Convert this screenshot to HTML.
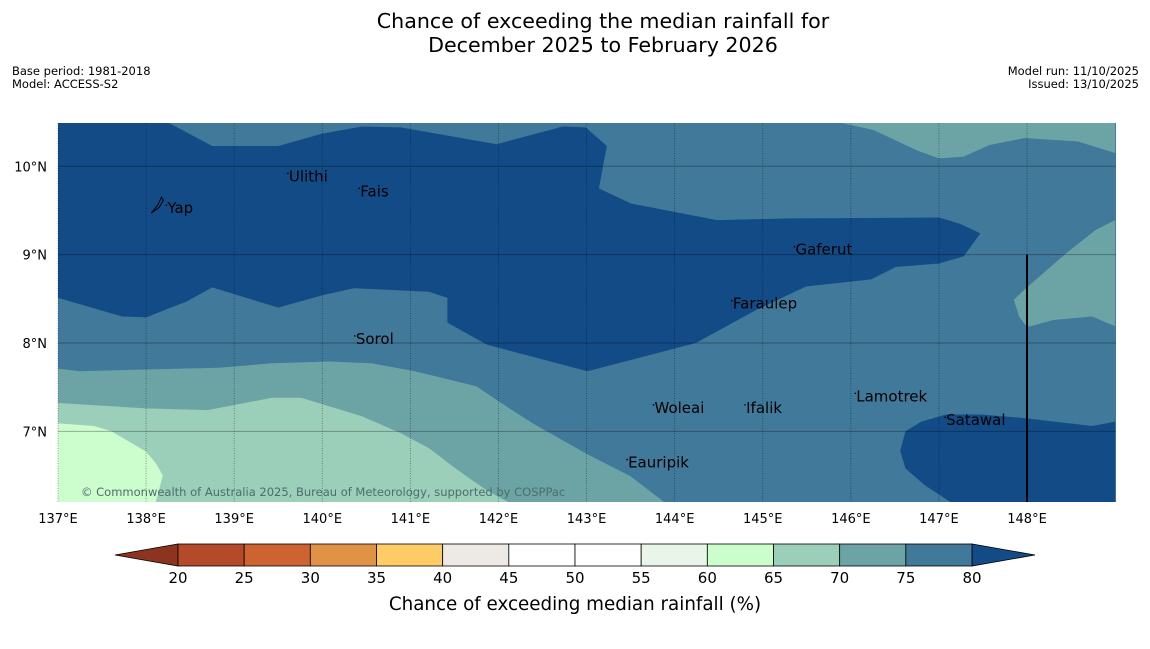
<!DOCTYPE html>
<html><head><meta charset="utf-8"><style>
body{margin:0;background:#fff;width:1150px;height:644px;overflow:hidden;font-family:"Liberation Sans","DejaVu Sans",sans-serif}
svg text{font-family:"DejaVu Sans","Liberation Sans",sans-serif}
</style></head><body>
<svg id="chart" width="1150" height="644" xmlns="http://www.w3.org/2000/svg">
<text x="603" y="28" font-size="20.6" text-anchor="middle">Chance of exceeding the median rainfall for</text>
<text x="603" y="52" font-size="20.6" text-anchor="middle">December 2025 to February 2026</text>
<text x="12" y="75" font-size="11.5">Base period: 1981-2018</text>
<text x="12" y="88" font-size="11.5">Model: ACCESS-S2</text>
<text x="1139" y="75" font-size="11.5" text-anchor="end">Model run: 11/10/2025</text>
<text x="1139" y="88" font-size="11.5" text-anchor="end">Issued: 13/10/2025</text>
<g id="map"></g>
<g id="cbar"></g>
</svg>
<script>
const NS="http://www.w3.org/2000/svg";
const lonTicks=[137,138,139,140,141,142,143,144,145,146,147,148];
const latTicks=[10,9,8,7];
const cbBounds=[20,25,30,35,40,45,50,55,60,65,70,75,80];
const cbColors=["#b34b29","#cc6330","#e09245","#fdcc66","#ede9e4","#ffffff","#ffffff","#e9f5e9","#ccfdcc","#9bcfb9","#6ca4a6","#41799a"];
const cbUnder="#8d3420", cbOver="#134b87";
const c60="#ccfdcc",c65="#9bcfb9",c70="#6ca4a6",c75="#41799a",c80="#134b87";
const darkNorth=[[137,10.49],[138.26,10.49],[138.75,10.23],[139.5,10.23],[140,10.37],[140.45,10.45],[140.89,10.44],[141.98,10.25],[142.73,10.45],[142.99,10.44],[143.23,10.23],[143.14,9.75],[143.5,9.58],[144.48,9.39],[145.3,9.41],[147,9.42],[147.24,9.35],[147.47,9.24],[147.28,8.98],[147,8.9],[146.51,8.86],[146.23,8.72],[145.49,8.64],[144.92,8.37],[144.24,8.0],[143.01,7.68],[141.87,7.98],[141.42,8.23],[141.42,8.51],[141.21,8.58],[140.36,8.62],[140,8.54],[139.5,8.4],[138.75,8.63],[138.46,8.47],[138,8.29],[137.73,8.3],[137,8.51]];
const darkSE=[[149,7.11],[148.74,7.06],[147.97,7.15],[147.48,7.19],[147.08,7.19],[146.8,7.11],[146.62,7.0],[146.56,6.78],[146.62,6.58],[146.84,6.39],[147.13,6.2],[149,6.2]];
const lightNE=[[145.9,10.49],[146.26,10.41],[146.75,10.18],[147,10.09],[147.28,10.11],[147.57,10.24],[147.97,10.32],[148.58,10.28],[149,10.15],[149,10.49]];
const lightE=[[149,9.39],[148.78,9.28],[148.45,9.02],[148.01,8.64],[147.85,8.49],[147.91,8.3],[148,8.18],[148.3,8.26],[148.74,8.3],[149,8.19]];
const band70=[[137,7.71],[137.24,7.68],[138,7.7],[138.83,7.72],[139.43,7.77],[140.08,7.79],[140.56,7.77],[141.05,7.68],[141.75,7.51],[142.03,7.32],[142.39,7.09],[142.99,6.75],[143.5,6.49],[143.88,6.2],[137,6.2]];
const band65=[[137,7.32],[138,7.26],[138.7,7.24],[139.43,7.38],[139.76,7.38],[140.45,7.17],[140.89,6.98],[141.21,6.81],[141.54,6.56],[141.87,6.33],[142.11,6.2],[137,6.2]];
const band60=[[137,7.09],[137.41,7.06],[137.61,7.0],[138,6.77],[138.11,6.64],[138.19,6.5],[138.11,6.2],[137,6.2]];
const places=["Ulithi","Fais","Yap","Gaferut","Faraulep","Sorol","Woleai","Ifalik","Lamotrek","Satawal","Eauripik"];
const placeLon=[139.61,140.42,138.23,145.36,144.65,140.37,143.76,144.8,146.05,147.07,143.46];
const placeLat=[9.92,9.75,9.56,9.09,8.48,8.08,7.3,7.3,7.43,7.16,6.68];

const X0=58,X1=1116,Y0=123,Y1=502;
const lonMin=137,lonMax=149.01,latMin=6.2,latMax=10.49;
const px=lon=>X0+(lon-lonMin)/(lonMax-lonMin)*(X1-X0);
const py=lat=>Y1-(lat-latMin)/(latMax-latMin)*(Y1-Y0);
const map=document.getElementById('map');
function mk(tag,attrs,parent){const e=document.createElementNS(NS,tag);for(const k in attrs)e.setAttribute(k,attrs[k]);parent.appendChild(e);return e;}
const bg=mk('rect',{x:X0,y:Y0,width:X1-X0,height:Y1-Y0,fill:c75},map);


function poly(pts,fill,name){const p=mk('polygon',{points:pts.map(q=>px(q[0])+','+py(q[1])).join(' '),fill:fill},map);

}
poly(darkNorth,c80,'region-above-80-north');
poly(darkSE,c80,'region-above-80-southeast');
poly(lightNE,c70,'region-70-75-northeast');
poly(lightE,c70,'region-70-75-east');
poly(band70,c70,'region-70-75-southwest');
poly(band65,c65,'region-65-70-southwest');
poly(band60,c60,'region-60-65-southwest');
lonTicks.forEach(l=>{const g=mk('line',{x1:px(l),x2:px(l),y1:Y0,y2:Y1,stroke:'rgba(0,0,0,0.45)','stroke-width':0.8,'stroke-dasharray':'1,1.5'},map);


const t=mk('text',{x:px(l),y:523,'font-size':13,'text-anchor':'middle'},map);t.textContent=l+'°E';

});
latTicks.forEach(l=>{const g=mk('line',{x1:X0,x2:X1,y1:py(l),y2:py(l),stroke:'rgba(0,0,0,0.3)','stroke-width':1},map);


const t=mk('text',{x:47,y:py(l)+5,'font-size':13,'text-anchor':'end'},map);t.textContent=l+'°N';

});
const vl=mk('line',{x1:px(148),x2:px(148),y1:py(9),y2:Y1,stroke:'#000','stroke-width':2},map);


const yapX=px(placeLon[2]),yapY=py(placeLat[2]);
const yi=mk('path',{d:`M${yapX-15},${yapY+8} L${yapX-8},${yapY-1} L${yapX-5},${yapY-8} L${yapX-3},${yapY-5} L${yapX-7},${yapY+2} Z`,fill:'none',stroke:'#000','stroke-width':1},map);


places.forEach((n,i)=>{const x=px(placeLon[i]),y=py(placeLat[i]);
const d=mk('circle',{cx:x,cy:y,r:0.8,fill:'#000'},map);


const t=mk('text',{x:x+1,y:y+8,'font-size':15,fill:'#000'},map);t.textContent=n;

});
const cp=mk('text',{x:81,y:496,'font-size':11.5,fill:'#4d6d6d'},map);cp.textContent='© Commonwealth of Australia 2025, Bureau of Meteorology, supported by COSPPac';



const cb=document.getElementById('cbar');
const CX0=178,CX1=972,CY=544,CH=22;
const cx=v=>CX0+(v-cbBounds[0])/(cbBounds[cbBounds.length-1]-cbBounds[0])*(CX1-CX0);
const lt=mk('polygon',{points:`${CX0},${CY} ${CX0},${CY+CH} 115,${CY+CH/2}`,fill:cbUnder,stroke:'#000','stroke-width':0.8},cb);


const rt=mk('polygon',{points:`${CX1},${CY} ${CX1},${CY+CH} 1035,${CY+CH/2}`,fill:cbOver,stroke:'#000','stroke-width':0.8},cb);


cbColors.forEach((c,i)=>{const r=mk('rect',{x:cx(cbBounds[i]),y:CY,width:cx(cbBounds[i+1])-cx(cbBounds[i]),height:CH,fill:c,stroke:'#000','stroke-width':0.8},cb);

});
cbBounds.forEach(v=>{const t=mk('text',{x:cx(v),y:583,'font-size':15,'text-anchor':'middle'},cb);t.textContent=v;

});
const ct=mk('text',{x:575,y:610,'font-size':18.3,'text-anchor':'middle'},cb);ct.textContent='Chance of exceeding median rainfall (%)';


</script>
</body></html>
